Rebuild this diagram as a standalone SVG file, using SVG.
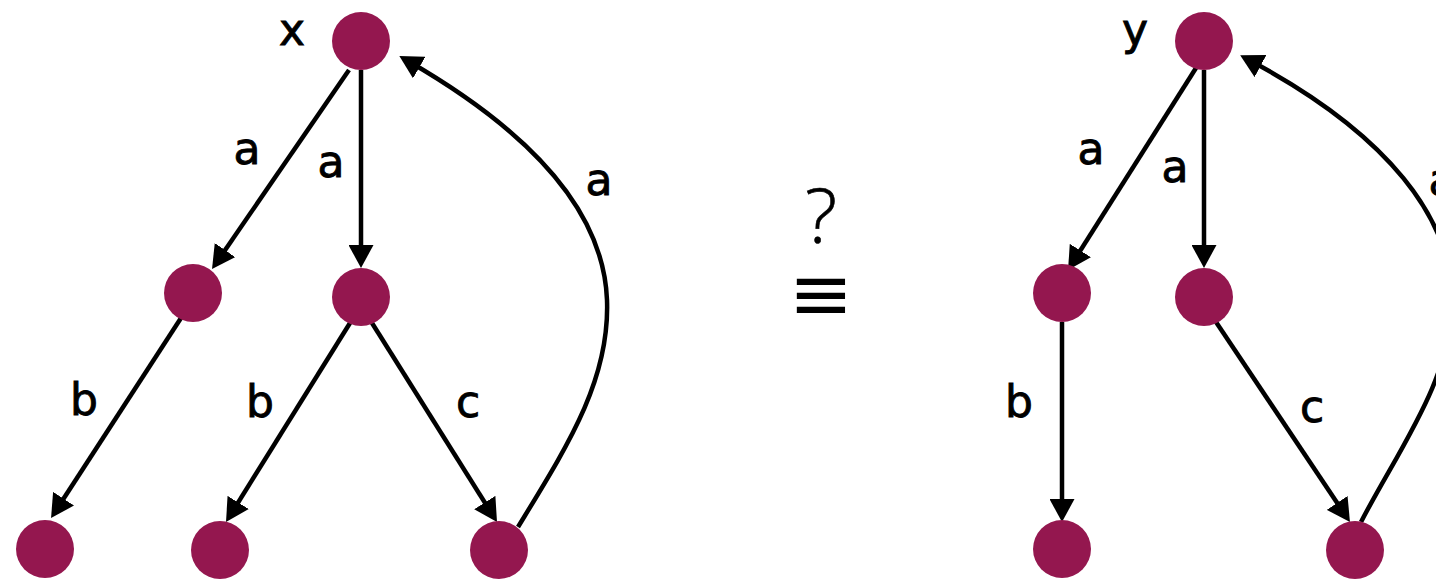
<svg xmlns="http://www.w3.org/2000/svg" width="1436" height="579" viewBox="0 0 1436 579">
<style>
.node{fill:#94174f}
.edge{fill:none;stroke:#000;stroke-width:4.5;marker-end:url(#arrow)}
.lbl{font-family:"DejaVu Sans",sans-serif;font-size:44px;fill:#000;stroke:#000;stroke-width:0.9px;text-anchor:middle}
.sym{font-family:"Open Sans","DejaVu Sans",sans-serif;font-weight:300;fill:#000;stroke:#000;stroke-width:0.6px;text-anchor:middle}
.eq{font-family:"DejaVu Sans",sans-serif;fill:#000;text-anchor:middle}
</style>
<defs>
<marker id="arrow" markerUnits="userSpaceOnUse" markerWidth="24" markerHeight="25" viewBox="0 0 24 25" refX="13" refY="12.5" orient="auto">
<path d="M0,0 L23,12.5 L0,25 z" fill="#000"/>
</marker>
</defs>
<rect width="1436" height="579" fill="#fff"/>
<g id="connectors">
<path class="edge" d="M349,70 L217.7,260.8"/>
<path class="edge" d="M361,70 L361,258"/>
<path class="edge" d="M181,318 L56.5,509.6"/>
<path class="edge" d="M350,323 L231.3,513.5"/>
<path class="edge" d="M372,323 L491.7,513.5"/>
<path class="edge" d="M518,527 C568,445 610,380 607,300 C604,220 545,140 408,61"/>
<path class="edge" d="M1196,68 L1073.4,261.5"/>
<path class="edge" d="M1204,70 L1204,258"/>
<path class="edge" d="M1062,322 L1062,512"/>
<path class="edge" d="M1216,322 L1344.4,513.7"/>
<path class="edge" d="M1361,522 C1398,450 1452,380 1452,300 C1452,220 1390,135 1249,60"/>
</g>
<g id="labels">
<text class="lbl" x="292" y="45">x</text>
<text class="lbl" x="247" y="164">a</text>
<text class="lbl" x="331" y="177">a</text>
<text class="lbl" x="599" y="195">a</text>
<text class="lbl" x="84" y="415">b</text>
<text class="lbl" x="260" y="417">b</text>
<text class="lbl" x="468" y="417">c</text>
<text class="lbl" x="1135" y="45">y</text>
<text class="lbl" x="1091" y="164">a</text>
<text class="lbl" x="1175" y="182">a</text>
<text class="lbl" x="1442" y="195">a</text>
<text class="lbl" x="1019" y="417">b</text>
<text class="lbl" x="1312" y="422">c</text>
</g>
<g id="equiv">
<text class="sym" x="821" y="243" font-size="76">?</text>
<text class="eq" x="821" y="320" font-size="77">≡</text>
</g>
<g id="node-x"><circle class="node" cx="361" cy="41" r="29"/></g>
<g id="node-l1"><circle class="node" cx="193" cy="293" r="29"/></g>
<g id="node-m1"><circle class="node" cx="361" cy="297" r="29"/></g>
<g id="node-b1"><circle class="node" cx="45" cy="549" r="29"/></g>
<g id="node-b2"><circle class="node" cx="220" cy="550" r="29"/></g>
<g id="node-b3"><circle class="node" cx="499" cy="550" r="29"/></g>
<g id="node-y"><circle class="node" cx="1204" cy="41" r="29"/></g>
<g id="node-l2"><circle class="node" cx="1062" cy="293" r="29"/></g>
<g id="node-m2"><circle class="node" cx="1204" cy="297" r="29"/></g>
<g id="node-b4"><circle class="node" cx="1062" cy="549" r="29"/></g>
<g id="node-b5"><circle class="node" cx="1355" cy="550" r="29"/></g>
</svg>
